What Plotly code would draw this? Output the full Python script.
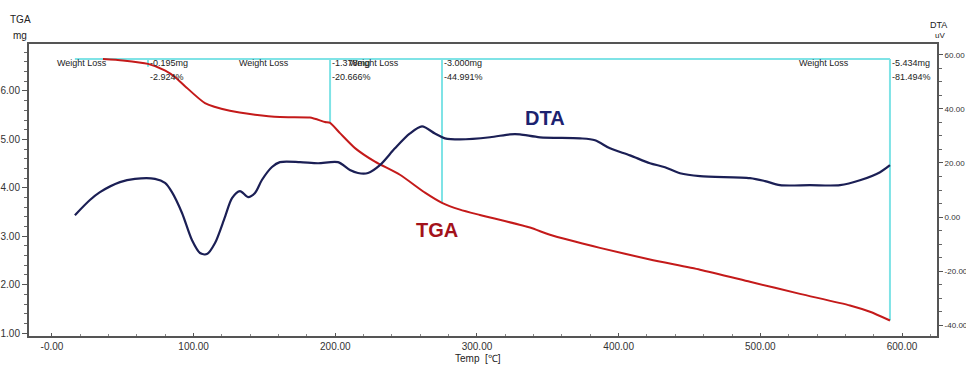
import numpy as np
import plotly.graph_objects as go

# ---- data ----
tga_temp = [36.0, 50.0, 67.8, 80.0, 86.8, 93.9, 108.0, 125.6, 143.3, 160.9, 182.1, 192.7,
            196.3, 203.3, 213.9, 228.0, 245.6, 263.3, 275.3, 288.0, 302.1, 337.4, 351.5,
            386.8, 422.1, 457.4, 492.7, 528.0, 563.3, 577.4, 591.5]
tga_mg = [6.66, 6.63, 6.56, 6.42, 6.29, 6.10, 5.75, 5.59, 5.51, 5.46, 5.45, 5.36,
          5.34, 5.13, 4.82, 4.54, 4.27, 3.90, 3.69, 3.55, 3.44, 3.18, 3.03,
          2.76, 2.52, 2.31, 2.06, 1.81, 1.57, 1.44, 1.26]

dta_temp = [16.2, 26.8, 33.9, 48.0, 58.6, 72.7, 79.8, 84.7, 91.8, 98.8, 104.5, 109.4,
            115.1, 122.1, 127.1, 132.7, 138.4, 143.3, 148.2, 155.3, 160.9, 175.1, 187.8,
            201.9, 210.3, 216.0, 223.1, 231.5, 242.1, 252.7, 261.2, 270.3, 277.4, 288.0,
            309.2, 323.3, 330.3, 344.5, 372.7, 383.3, 393.9, 408.0, 422.1, 432.7, 443.3,
            457.4, 492.7, 503.3, 513.9, 535.0, 556.2, 570.3, 584.5, 591.5]
dta_uv = [0.7, 6.3, 9.2, 12.9, 14.1, 14.1, 12.6, 9.2, 1.5, -8.5, -13.3, -13.7,
          -9.6, 0.0, 7.0, 9.6, 7.4, 8.9, 13.7, 18.5, 20.3, 20.3, 19.9,
          20.3, 17.4, 16.3, 16.3, 19.2, 25.4, 30.9, 33.5, 30.9, 29.1, 28.7,
          29.5, 30.6, 30.6, 29.5, 29.1, 28.4, 25.4, 22.8, 19.9, 18.4, 16.2,
          15.1, 14.4, 13.3, 11.8, 11.8, 11.8, 13.6, 16.6, 19.2]

# weight-loss analysis steps
bracket_start_temp = 16.2
bracket_level_mg = 6.66
step_temp = [67.8, 196.3, 275.3, 591.5]
step_mass_text = ["-0.195mg", "-1.378mg", "-3.000mg", "-5.434mg"]
step_pct_text = ["-2.924%", "-20.666%", "-44.991%", "-81.494%"]
weight_loss_label_temp = [2.1, 130.6, 208.0, 526.0]

x_tick_vals = [0, 100, 200, 300, 400, 500, 600]
x_tick_text = ["-0.00", "100.00", "200.00", "300.00", "400.00", "500.00", "600.00"]
y_tick_vals = [1, 2, 3, 4, 5, 6]
y_tick_text = ["1.00", "2.00", "3.00", "4.00", "5.00", "6.00"]
y2_tick_vals = [-40, -20, 0, 20, 40, 60]
y2_tick_text = ["-40.00", "-20.00", "0.00", "20.00", "40.00", "60.00"]

# ---- figure ----
W, H = 966, 370
ML, MR, MT, MB = 29, 29, 44, 34
PW, PH = W - ML - MR, H - MT - MB


def px(xp):
    return (xp - ML) / PW


def py(yp):
    return (H - MB - yp) / PH


CYAN = "#7fe3e6"
TGA_COL = "#c41a1a"
DTA_COL = "#1b1f55"
AX_COL = "#555555"
FONT = "Liberation Sans Narrow, Arial Narrow, Liberation Sans, Arial"

fig = go.Figure()

# cyan bracket line
fig.add_trace(go.Scatter(x=[bracket_start_temp, step_temp[-1]],
                         y=[bracket_level_mg, bracket_level_mg],
                         mode="lines", line=dict(color=CYAN, width=2),
                         hoverinfo="skip", showlegend=False))
step_end_mass = np.interp(step_temp, tga_temp, tga_mg)
for i, (t, m) in enumerate(zip(step_temp, step_end_mass)):
    bottom = m if i > 0 else bracket_level_mg - 0.16
    fig.add_trace(go.Scatter(x=[t, t], y=[bracket_level_mg, bottom],
                             mode="lines", line=dict(color=CYAN, width=2),
                             hoverinfo="skip", showlegend=False))

fig.add_trace(go.Scatter(x=tga_temp, y=tga_mg, mode="lines",
                         line=dict(color=TGA_COL, width=2, shape="spline", smoothing=0.6),
                         name="TGA", showlegend=False))
fig.add_trace(go.Scatter(x=dta_temp, y=dta_uv, mode="lines", yaxis="y2",
                         line=dict(color=DTA_COL, width=2.2, shape="spline", smoothing=0.8),
                         name="DTA", showlegend=False))

ann = []
small = dict(size=9, color="#222", family=FONT)
for t in weight_loss_label_temp:
    ann.append(dict(x=t, y=6.58, xref="x", yref="y", text="Weight Loss", showarrow=False,
                    xanchor="left", yanchor="middle", font=small))
for t, a, b in zip(step_temp, step_mass_text, step_pct_text):
    ann.append(dict(x=t, y=6.58, xref="x", yref="y", text=a, showarrow=False,
                    xanchor="left", yanchor="middle", font=small))
    ann.append(dict(x=t, y=6.29, xref="x", yref="y", text=b, showarrow=False,
                    xanchor="left", yanchor="middle", font=small))


def lab(xp, yp, text, size, color, family=FONT):
    return dict(x=px(xp), y=py(yp), xref="paper", yref="paper", text=text,
                showarrow=False, xanchor="center", yanchor="middle",
                font=dict(size=size, color=color, family=family))


ann += [
    lab(437, 230, "<b>TGA</b>", 20, "#a3121a", "Liberation Sans, Arial"),
    lab(545, 118, "<b>DTA</b>", 20, "#1c2270", "Liberation Sans, Arial"),
    lab(20, 20, "TGA", 10, "#222"),
    lab(20, 35, "mg", 10, "#222"),
    lab(939, 25, "DTA", 9, "#222"),
    lab(940, 36, "uV", 8, "#222"),
    lab(478, 358, "Temp  [\u2103]", 10, "#222"),
]

fig.update_layout(
    width=W, height=H,
    margin=dict(l=ML, r=MR, t=MT, b=MB, autoexpand=False),
    paper_bgcolor="white", plot_bgcolor="white",
    showlegend=False, hovermode=False,
    font=dict(family=FONT, size=10, color="#333"),
    xaxis=dict(range=[-16.2, 624.7], tickvals=x_tick_vals, ticktext=x_tick_text,
               automargin=False,
               showgrid=False, zeroline=False, showline=True, linecolor=AX_COL, linewidth=2,
               mirror=True, ticks="inside", ticklen=3, tickcolor=AX_COL,
               minor=dict(dtick=20, ticks="inside", ticklen=2, tickcolor="#888"),
               tickfont=dict(size=10, color="#333")),
    yaxis=dict(range=[0.94, 6.97], tickvals=y_tick_vals, ticktext=y_tick_text,
               automargin=False,
               showgrid=False, zeroline=False, showline=True, linecolor=AX_COL, linewidth=2,
               ticks="outside", ticklen=5, tickcolor=AX_COL,
               minor=dict(dtick=0.2, ticks="outside", ticklen=3, tickcolor="#666"),
               tickfont=dict(size=10, color="#333")),
    yaxis2=dict(range=[-44, 64], tickvals=y2_tick_vals, ticktext=y2_tick_text,
                automargin=False,
                overlaying="y", side="right", showgrid=False, zeroline=False,
                showline=True, linecolor=AX_COL, linewidth=2,
                ticks="outside", ticklen=4, tickcolor=AX_COL,
                minor=dict(dtick=5, ticks="outside", ticklen=3, tickcolor="#666"),
                tickfont=dict(size=8, color="#333")),
    annotations=ann,
)

fig.write_html("out.html", config={"displayModeBar": False},
               post_script="document.body.style.margin='0px';")
